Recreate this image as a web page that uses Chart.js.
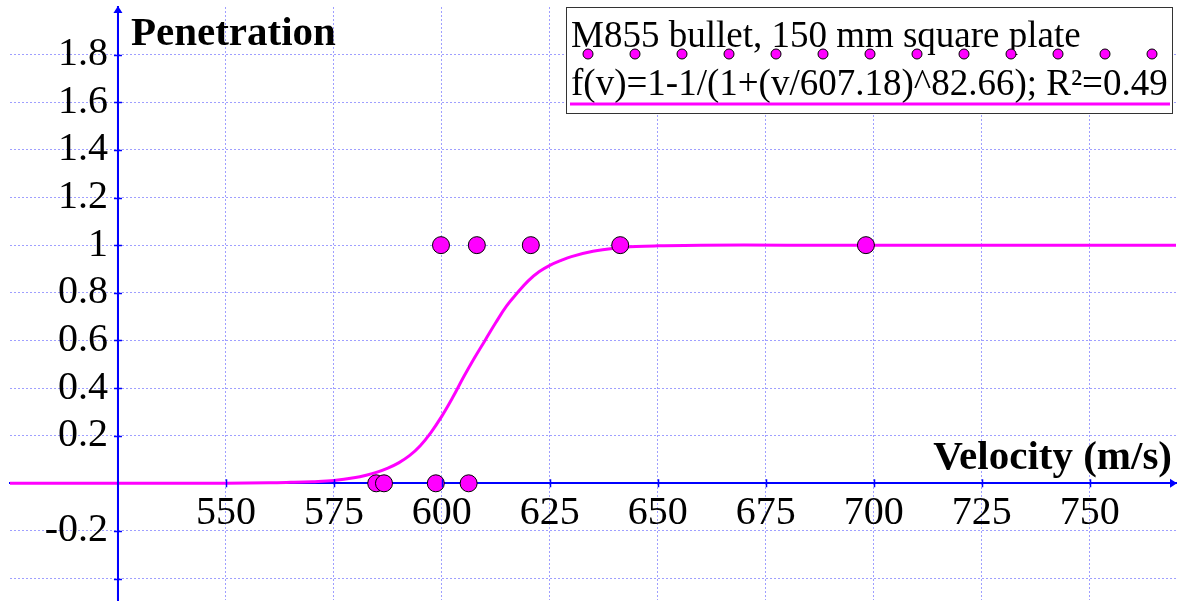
<!DOCTYPE html>
<html>
<head>
<meta charset="utf-8">
<script src="https://cdn.jsdelivr.net/npm/chart.js@4/dist/chart.umd.min.js"></script>
<style>
  html, body { margin: 0; padding: 0; background: #fff; }
  #wrap { width: 1180px; height: 602px; }
</style>
</head>
<body>
<div id="wrap"><canvas id="chart" width="1180" height="602"></canvas></div>
<script>
// measured shots (velocity m/s, penetration 0/1)
const SHOT_V = [584.8, 586.6, 598.6, 606.2, 599.8, 608.1, 620.6, 641.3, 698.2];
const SHOT_P = [0, 0, 0, 0, 1, 1, 1, 1, 1];

// fitted curve
const FIT_V = [500, 540, 560, 565, 570, 575, 580, 582.5, 585, 587.5, 590, 592.5, 595, 597.5, 600, 602.5, 605, 607.5, 610, 612.5, 615, 617.5, 620, 622.5, 625, 627.5, 630, 635, 640, 645, 650, 660, 680, 700, 770];
const FIT_P = [0, 0, 0.002, 0.004, 0.007, 0.012, 0.024, 0.034, 0.047, 0.064, 0.086, 0.116, 0.158, 0.214, 0.282, 0.36, 0.445, 0.525, 0.6, 0.675, 0.745, 0.8, 0.85, 0.888, 0.915, 0.935, 0.952, 0.974, 0.987, 0.994, 0.997, 1, 1, 1, 1];

// axis ticks
const X_TICKS = [550, 575, 600, 625, 650, 675, 700, 725, 750];
const X_TICK_LABELS = ['550', '575', '600', '625', '650', '675', '700', '725', '750'];
const Y_TICKS = [-0.4, -0.2, 0.2, 0.4, 0.6, 0.8, 1, 1.2, 1.4, 1.6, 1.8];
const Y_TICK_LABELS = ['', '-0.2', '0.2', '0.4', '0.6', '0.8', '1', '1.2', '1.4', '1.6', '1.8'];

const SHOT_LABEL = 'M855 bullet, 150 mm square plate';
const FIT_LABEL = 'f(v)=1-1/(1+(v/607.18)^82.66); R\u00b2=0.49';
const X_TITLE = 'Velocity (m/s)';
const Y_TITLE = 'Penetration';

const MAGENTA = '#ff00ff';
const AXIS_BLUE = '#0000ff';
const GRID = '#9f9fff';
const SERIF = '"Liberation Serif", "Times New Roman", serif';

Chart.defaults.font.family = SERIF;
Chart.defaults.color = '#000';

// drop the label padding chart.js reserves at the scale ends
function noPadding(scale) {
  scale.paddingLeft = 0;
  scale.paddingRight = 0;
  scale.paddingTop = 0;
  scale.paddingBottom = 0;
}

// crossing tick marks, arrows, axis titles and the boxed legend
const decorations = {
  id: 'decorations',
  afterDraw(chart) {
    const ctx = chart.ctx;
    const xs = chart.scales.x;
    const ys = chart.scales.y;
    const ax = xs.getPixelForValue(525);
    const ay = ys.getPixelForValue(0);
    const area = chart.chartArea;

    ctx.save();
    ctx.fillStyle = AXIS_BLUE;
    ctx.strokeStyle = AXIS_BLUE;
    ctx.lineWidth = 2;
    // y axis up to the arrow tip
    ctx.beginPath();
    ctx.moveTo(ax, area.bottom);
    ctx.lineTo(ax, area.top - 1);
    ctx.stroke();
    ctx.beginPath();
    ctx.moveTo(ax, area.top - 1);
    ctx.lineTo(ax - 4.5, area.top + 6);
    ctx.lineTo(ax + 4.5, area.top + 6);
    ctx.closePath();
    ctx.fill();
    // x axis arrow
    ctx.beginPath();
    ctx.moveTo(area.right + 1, ay);
    ctx.lineTo(area.right - 6, ay - 4.5);
    ctx.lineTo(area.right - 6, ay + 4.5);
    ctx.closePath();
    ctx.fill();

    // tick marks across both axes
    ctx.lineWidth = 1.5;
    ctx.beginPath();
    X_TICKS.forEach(v => {
      const px = Math.round(xs.getPixelForValue(v)) + 0.5;
      ctx.moveTo(px, ay - 4);
      ctx.lineTo(px, ay + 4);
    });
    Y_TICKS.forEach(v => {
      const py = Math.round(ys.getPixelForValue(v)) + 0.5;
      ctx.moveTo(ax - 4, py);
      ctx.lineTo(ax + 4, py);
    });
    ctx.stroke();

    // axis titles
    ctx.fillStyle = '#000';
    ctx.font = 'bold 41px ' + SERIF;
    ctx.textBaseline = 'alphabetic';
    ctx.textAlign = 'left';
    ctx.fillText(Y_TITLE, ax + 13, area.top + 38);
    ctx.textAlign = 'right';
    ctx.fillText(X_TITLE, area.right - 4, ay - 14);

    // legend box
    const lx = 566, ly = 7, lw = 606, lh = 106;
    ctx.fillStyle = '#fff';
    ctx.fillRect(lx, ly, lw, lh);
    ctx.strokeStyle = '#333';
    ctx.lineWidth = 1;
    ctx.strokeRect(lx + 0.5, ly + 0.5, lw, lh);

    const ds = chart.data.datasets;
    ctx.fillStyle = '#000';
    ctx.font = '37px ' + SERIF;
    ctx.textAlign = 'left';
    ctx.fillText(ds[0].label, lx + 5, ly + 40);
    ctx.fillText(ds[1].label, lx + 5, ly + 88);

    // row of markers under the first entry
    for (let i = 0; i < 13; i++) {
      ctx.beginPath();
      ctx.arc(lx + 22 + i * 47, ly + 47, 5, 0, Math.PI * 2);
      ctx.fillStyle = MAGENTA;
      ctx.fill();
      ctx.strokeStyle = '#000';
      ctx.lineWidth = 1;
      ctx.stroke();
    }
    // line sample under the second entry
    ctx.strokeStyle = MAGENTA;
    ctx.lineWidth = 3;
    ctx.beginPath();
    ctx.moveTo(lx + 4, ly + 97);
    ctx.lineTo(lx + lw - 2, ly + 97);
    ctx.stroke();
    ctx.restore();
  }
};

new Chart(document.getElementById('chart').getContext('2d'), {
  type: 'scatter',
  data: {
    datasets: [
      {
        label: SHOT_LABEL,
        data: SHOT_V.map((v, i) => ({ x: v, y: SHOT_P[i] })),
        backgroundColor: MAGENTA,
        borderColor: '#000',
        borderWidth: 1,
        pointRadius: 8.5,
        pointHoverRadius: 8.5,
        order: 1
      },
      {
        label: FIT_LABEL,
        type: 'line',
        data: FIT_V.map((v, i) => ({ x: v, y: FIT_P[i] })),
        borderColor: MAGENTA,
        borderWidth: 3,
        pointRadius: 0,
        fill: false,
        tension: 0.4,
        order: 2
      }
    ]
  },
  options: {
    responsive: false,
    animation: false,
    devicePixelRatio: 1,
    layout: { autoPadding: false, padding: { left: 10, right: 4, top: 7, bottom: 2 } },
    plugins: { legend: { display: false }, tooltip: { enabled: false } },
    scales: {
      x: {
        type: 'linear',
        min: 500,
        max: 770,
        position: { y: 0 },
        afterBuildTicks: s => { s.ticks = X_TICKS.map(v => ({ value: v })); },
        afterFit: noPadding,
        ticks: {
          autoSkip: false,
          maxRotation: 0,
          padding: 6,
          font: { size: 40 },
          color: '#000',
          callback: (v, i) => X_TICK_LABELS[i]
        },
        grid: { color: GRID, lineWidth: 1, drawTicks: false },
        border: { display: true, color: AXIS_BLUE, width: 2, dash: [2, 2] }
      },
      y: {
        type: 'linear',
        min: -0.49,
        max: 2,
        position: { x: 525 },
        afterBuildTicks: s => { s.ticks = Y_TICKS.map(v => ({ value: v })); },
        afterFit: noPadding,
        ticks: {
          autoSkip: false,
          font: { size: 40 },
          color: '#000',
          // trailing space keeps the labels clear of the axis
          callback: (v, i) => Y_TICK_LABELS[i] + ' '
        },
        grid: { color: GRID, lineWidth: 1, drawTicks: false },
        border: { display: true, color: AXIS_BLUE, width: 2, dash: [2, 2] }
      }
    }
  },
  plugins: [decorations]
});
</script>
</body>
</html>
